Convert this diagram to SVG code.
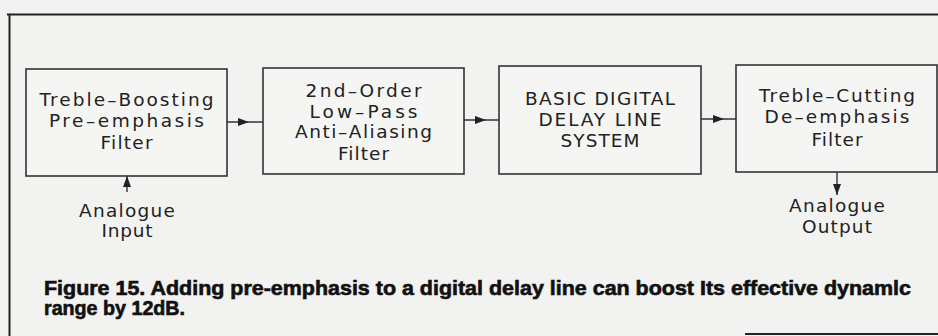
<svg xmlns="http://www.w3.org/2000/svg" width="938" height="336" viewBox="0 0 938 336">
<style>
.bg{fill:#f2f2f0}
.frame{stroke:#222;stroke-width:2;fill:none}
.box{fill:#f5f5f3;stroke:#333;stroke-width:1.6}
.wire{stroke:#333;stroke-width:1.4;fill:none}
.lbl{font-family:"DejaVu Sans","Liberation Sans",sans-serif;font-size:18.5px;fill:#222;text-anchor:middle}
.cap{font-family:"Liberation Sans",Arial,sans-serif;font-weight:700;font-size:19.5px;fill:#111;stroke:#111;stroke-width:0.6}
</style>
<defs>
<marker id="ah" viewBox="0 0 11 8" refX="11" refY="4" markerWidth="11" markerHeight="8" markerUnits="userSpaceOnUse" orient="auto">
<path d="M0,0 L11,4 L0,8 Z" fill="#222"/>
</marker>
</defs>
<rect class="bg" x="0" y="0" width="938" height="336"/>
<g id="frame">
<path class="frame" d="M7,14.5 L938,14.5 M9.5,14 L9.5,336"/>
<path class="frame" d="M745,334 L938,334"/>
</g>
<g id="connectors">
<path class="wire" d="M227,122 L249,122 L263,122" marker-mid="url(#ah)"/>
<path class="wire" d="M464,120 L486,120 L499,120" marker-mid="url(#ah)"/>
<path class="wire" d="M701,119 L724,119 L736,119" marker-mid="url(#ah)"/>
<path class="wire" d="M127,192 L127,176" marker-end="url(#ah)"/>
<path class="wire" d="M837,172 L837,195" marker-end="url(#ah)"/>
</g>
<g id="pre-emphasis">
<rect class="box" x="26" y="69" width="201" height="107"/>
<text class="lbl" x="126.5" y="106" textLength="174">Treble–Boosting</text>
<text class="lbl" x="126.5" y="127" textLength="155">Pre–emphasis</text>
<text class="lbl" x="126.5" y="149" textLength="52">Filter</text>
</g>
<g id="anti-aliasing">
<rect class="box" x="263" y="68" width="201" height="106"/>
<text class="lbl" x="363.5" y="97" textLength="116">2nd–Order</text>
<text class="lbl" x="363.5" y="118" textLength="108">Low–Pass</text>
<text class="lbl" x="363.5" y="138" textLength="137">Anti–Aliasing</text>
<text class="lbl" x="363.5" y="160" textLength="51">Filter</text>
</g>
<g id="delay-line">
<rect class="box" x="499" y="66" width="202" height="108"/>
<text class="lbl" x="600" y="105" textLength="150">BASIC DIGITAL</text>
<text class="lbl" x="600" y="126" textLength="123">DELAY LINE</text>
<text class="lbl" x="600" y="147" textLength="79">SYSTEM</text>
</g>
<g id="de-emphasis">
<rect class="box" x="736" y="65" width="201" height="107"/>
<text class="lbl" x="837" y="102" textLength="156">Treble–Cutting</text>
<text class="lbl" x="837" y="123" textLength="145">De–emphasis</text>
<text class="lbl" x="837" y="146" textLength="51">Filter</text>
</g>
<g id="input">
<text class="lbl" x="127" y="217" textLength="96">Analogue</text>
<text class="lbl" x="127" y="237" textLength="51">Input</text>
</g>
<g id="output">
<text class="lbl" x="837" y="212" textLength="96">Analogue</text>
<text class="lbl" x="837" y="233" textLength="70">Output</text>
</g>
<g id="caption">
<text class="cap" x="44" y="295" textLength="867" lengthAdjust="spacingAndGlyphs">Figure 15. Adding pre-emphasis to a digital delay line can boost Its effective dynamlc</text>
<text class="cap" x="44" y="315" textLength="141" lengthAdjust="spacingAndGlyphs">range by 12dB.</text>
</g>
</svg>
